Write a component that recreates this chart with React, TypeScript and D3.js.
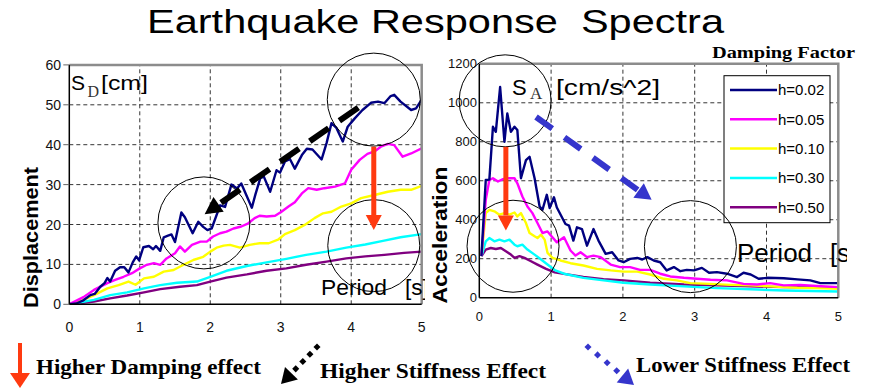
import * as d3 from 'd3';

// ---- data ----
const periodTicks = [0, 1, 2, 3, 4, 5];
const sdTicks = [0, 10, 20, 30, 40, 50, 60];
const saTicks = [0, 200, 400, 600, 800, 1000, 1200];
const dampingLabels = ['h=0.02', 'h=0.05', 'h=0.10', 'h=0.30', 'h=0.50'];
const dampingColors = ['#000080', '#ff00ff', '#ffff00', '#00ffff', '#800080'];

type Pt = [number, number];

// displacement spectra [period s, SD cm]
const sdH002: Pt[] = [
  [0, 0], [0.1, 0.2], [0.2, 1.0], [0.3, 2.3], [0.36, 2.6], [0.44, 4.4], [0.5, 5.3], [0.54, 6.6],
  [0.58, 5.7], [0.65, 8.4], [0.72, 9.3], [0.78, 9.3], [0.84, 8.0], [0.9, 10.5], [0.95, 12.0],
  [0.99, 11.0], [1.05, 14.3], [1.13, 14.6], [1.19, 13.8], [1.23, 14.6], [1.29, 13.4], [1.34, 16.8],
  [1.4, 17.2], [1.45, 17.5], [1.5, 15.6], [1.59, 23.0], [1.64, 21.8], [1.75, 17.8], [1.83, 20.7],
  [1.9, 19.4], [1.96, 18.6], [2.02, 19.0], [2.14, 24.8], [2.21, 24.4], [2.3, 30.0], [2.38, 29.0],
  [2.44, 30.3], [2.59, 24.2], [2.64, 27.5], [2.71, 31.6], [2.76, 32.0], [2.85, 28.2], [2.94, 33.6],
  [2.99, 33.0], [3.06, 35.8], [3.13, 36.4], [3.2, 34.0], [3.3, 37.4], [3.37, 39.0], [3.45, 38.8],
  [3.58, 36.3], [3.65, 40.4], [3.72, 45.4], [3.79, 44.2], [3.88, 40.8], [3.95, 44.5], [4.05, 46.6],
  [4.16, 48.7], [4.28, 50.5], [4.38, 50.8], [4.47, 50.4], [4.56, 52.2], [4.61, 52.5], [4.7, 50.8],
  [4.85, 48.7], [4.92, 49.1], [5.0, 51.3],
];
const sdH005: Pt[] = [
  [0, 0], [0.2, 1.8], [0.35, 3.6], [0.54, 5.3], [0.65, 6.1], [0.77, 6.9], [0.89, 7.8], [1.0, 9.0],
  [1.1, 9.9], [1.2, 10.3], [1.29, 9.9], [1.38, 11.5], [1.5, 12.8], [1.57, 14.5], [1.64, 13.2],
  [1.74, 14.9], [1.86, 15.7], [1.95, 15.7], [2.04, 17.0], [2.14, 17.8], [2.23, 18.2], [2.33, 19.0],
  [2.44, 19.5], [2.54, 20.3], [2.63, 21.6], [2.7, 22.2], [2.8, 22.0], [2.92, 22.2], [3.01, 23.2],
  [3.11, 24.5], [3.2, 25.6], [3.3, 27.8], [3.39, 29.1], [3.51, 28.7], [3.62, 29.1], [3.77, 29.5],
  [3.91, 30.3], [4.0, 33.7], [4.12, 36.2], [4.23, 37.7], [4.33, 38.3], [4.42, 39.5], [4.52, 40.2],
  [4.61, 39.9], [4.73, 37.0], [4.85, 37.8], [5.0, 39.1],
];
const sdH010: Pt[] = [
  [0, 0], [0.2, 1.1], [0.35, 2.3], [0.54, 4.0], [0.7, 4.8], [0.84, 5.7], [0.94, 4.9], [1.06, 6.5],
  [1.2, 6.9], [1.34, 8.2], [1.48, 8.6], [1.62, 9.9], [1.76, 11.1], [1.9, 11.9], [2.0, 13.2],
  [2.09, 14.2], [2.19, 14.7], [2.28, 14.9], [2.42, 14.2], [2.56, 14.9], [2.7, 15.3], [2.83, 15.3],
  [2.97, 16.3], [3.06, 17.6], [3.2, 18.6], [3.34, 19.9], [3.48, 21.6], [3.6, 22.8], [3.72, 23.2],
  [3.86, 24.5], [4.0, 25.3], [4.14, 26.6], [4.33, 27.4], [4.52, 28.2], [4.7, 28.7], [4.85, 28.7],
  [5.0, 29.7],
];
const sdH030: Pt[] = [
  [0, 0], [0.35, 1.1], [0.58, 2.3], [0.82, 3.0], [1.06, 4.0], [1.29, 4.8], [1.53, 5.4], [1.81, 5.7],
  [2.0, 6.9], [2.23, 8.4], [2.52, 9.6], [2.8, 10.5], [3.08, 11.4], [3.36, 12.4], [3.65, 13.2],
  [3.93, 14.2], [4.2, 15.0], [4.45, 15.9], [4.7, 16.8], [5.0, 17.6],
];
const sdH050: Pt[] = [
  [0, 0], [0.35, 0.7], [0.58, 1.5], [0.82, 2.2], [1.06, 3.0], [1.29, 3.8], [1.57, 4.4], [1.81, 4.8],
  [2.0, 5.7], [2.23, 6.7], [2.52, 7.5], [2.8, 8.4], [3.08, 9.0], [3.36, 9.9], [3.65, 10.7],
  [3.93, 11.5], [4.2, 12.0], [4.47, 12.4], [4.75, 12.9], [5.0, 13.2],
];

// acceleration spectra [period s, SA cm/s^2]
const saH002: Pt[] = [
  [0.03, 213], [0.09, 604], [0.14, 606], [0.19, 877], [0.23, 851], [0.29, 1081], [0.35, 800],
  [0.39, 945], [0.44, 851], [0.49, 877], [0.53, 860], [0.58, 613], [0.65, 706], [0.7, 723],
  [0.77, 613], [0.84, 468], [0.88, 451], [0.94, 528], [0.98, 460], [1.04, 515], [1.08, 463],
  [1.2, 378], [1.25, 370], [1.31, 293], [1.36, 361], [1.43, 352], [1.5, 267], [1.59, 352],
  [1.66, 293], [1.76, 225], [1.85, 233], [1.94, 191], [2.01, 182], [2.1, 199], [2.2, 204],
  [2.27, 196], [2.34, 208], [2.43, 191], [2.52, 182], [2.61, 140], [2.71, 157], [2.8, 136],
  [2.89, 143], [2.99, 140], [3.1, 153], [3.2, 128], [3.31, 131], [3.45, 123], [3.59, 106],
  [3.68, 128], [3.78, 119], [3.89, 97], [4.01, 102], [4.24, 100], [4.43, 94], [4.61, 89],
  [4.75, 75], [4.89, 75], [5.0, 75],
];
const saH005: Pt[] = [
  [0.03, 213], [0.09, 502], [0.14, 604], [0.19, 613], [0.26, 596], [0.33, 608], [0.39, 613],
  [0.49, 613], [0.53, 587], [0.6, 519], [0.67, 468], [0.74, 434], [0.81, 383], [0.88, 332],
  [0.95, 340], [1.0, 318], [1.08, 284], [1.18, 310], [1.27, 242], [1.34, 216], [1.41, 233],
  [1.5, 208], [1.59, 216], [1.69, 208], [1.83, 170], [1.96, 157], [2.1, 157], [2.24, 143],
  [2.38, 143], [2.52, 123], [2.66, 109], [2.85, 102], [3.03, 97], [3.22, 92], [3.45, 89],
  [3.68, 71], [3.87, 68], [4.05, 75], [4.24, 63], [4.47, 66], [4.7, 60], [5.0, 54],
];
const saH010: Pt[] = [
  [0.03, 213], [0.09, 434], [0.14, 451], [0.21, 443], [0.28, 426], [0.35, 434], [0.42, 426],
  [0.49, 437], [0.53, 417], [0.58, 434], [0.65, 383], [0.7, 332], [0.77, 315], [0.81, 306],
  [0.86, 323], [0.91, 298], [0.95, 230], [1.02, 204], [1.13, 191], [1.27, 177], [1.45, 165],
  [1.64, 148], [1.83, 140], [2.01, 134], [2.2, 134], [2.38, 119], [2.57, 97], [2.75, 89],
  [2.94, 75], [3.22, 71], [3.5, 66], [3.78, 63], [4.05, 58], [4.43, 51], [4.7, 49], [5.0, 46],
];
const saH030: Pt[] = [
  [0.03, 213], [0.09, 289], [0.14, 306], [0.21, 289], [0.28, 298], [0.35, 289], [0.42, 298],
  [0.49, 272], [0.53, 264], [0.6, 272], [0.67, 247], [0.77, 221], [0.86, 196], [0.95, 170],
  [1.05, 142], [1.18, 123], [1.45, 102], [1.73, 89], [2.01, 77], [2.38, 68], [2.85, 58],
  [3.31, 49], [3.78, 43], [4.24, 37], [5.0, 32],
];
const saH050: Pt[] = [
  [0.03, 213], [0.09, 247], [0.16, 255], [0.23, 250], [0.3, 255], [0.37, 238], [0.44, 221],
  [0.49, 204], [0.56, 213], [0.63, 204], [0.72, 187], [0.81, 170], [0.93, 148], [1.05, 130],
  [1.18, 122], [1.45, 106], [1.73, 95], [2.01, 89], [2.38, 77], [2.85, 68], [3.31, 63],
  [3.78, 58], [4.24, 54], [5.0, 51],
];

const sdSeries = [sdH002, sdH005, sdH010, sdH030, sdH050];
const saSeries = [saH002, saH005, saH010, saH030, saH050];

const SANS = 'Liberation Sans, Arial, sans-serif';
const SERIF = 'Liberation Serif, Times New Roman, serif';
const RED = '#ff3a10';
const BLUE = '#3535cc';

function arrowHead(x1: number, y1: number, x2: number, y2: number, len: number, half: number) {
  const a = Math.atan2(y2 - y1, x2 - x1);
  const bx = x2 - len * Math.cos(a);
  const by = y2 - len * Math.sin(a);
  const nx = -Math.sin(a) * half;
  const ny = Math.cos(a) * half;
  return { bx, by, pts: `${x2},${y2} ${bx + nx},${by + ny} ${bx - nx},${by - ny}` };
}

function Arrow({ x1, y1, x2, y2, color, width, len, half, dash }: {
  x1: number; y1: number; x2: number; y2: number; color: string; width: number; len: number; half: number; dash?: string;
}) {
  const h = arrowHead(x1, y1, x2, y2, len, half);
  return (
    <g>
      <line x1={x1} y1={y1} x2={h.bx} y2={h.by} stroke={color} strokeWidth={width} strokeDasharray={dash} />
      <polygon points={h.pts} fill={color} />
    </g>
  );
}

function DottedArrow({ x1, y1, x2, y2, color }: { x1: number; y1: number; x2: number; y2: number; color: string }) {
  const h = arrowHead(x1, y1, x2, y2, 15, 9);
  const dots = d3.range(4).map((i) => {
    const f = i / 3.6;
    return [x1 + (h.bx - x1) * f, y1 + (h.by - y1) * f];
  });
  return (
    <g>
      {dots.map(([x, y], i) => (
        <rect key={i} x={x - 2.5} y={y - 2.5} width={5} height={5} fill={color} transform={`rotate(45 ${x} ${y})`} />
      ))}
      <polygon points={h.pts} fill={color} />
    </g>
  );
}

interface PanelProps {
  id: string;
  series: Pt[][];
  yTicks: number[];
  x0: number; x1: number; y0: number; y1: number;
  yLabelX: number; xLabelY: number; tickFont: number; tickLen: number;
  children: (x: d3.ScaleLinear<number, number>, y: d3.ScaleLinear<number, number>) => any;
}

function Panel({ id, series, yTicks, x0, x1, y0, y1, yLabelX, xLabelY, tickFont, tickLen, children }: PanelProps) {
  const x = d3.scaleLinear().domain([0, 5]).range([x0, x1]);
  const y = d3.scaleLinear().domain([0, yTicks[yTicks.length - 1]]).range([y0, y1]);
  const line = d3.line<Pt>().x((d) => x(d[0])).y((d) => y(d[1]));
  return (
    <g>
      <defs>
        <clipPath id={`clip-${id}`}>
          <rect x={x0} y={y1} width={x1 - x0} height={y0 - y1} />
        </clipPath>
      </defs>
      <rect x={x0} y={y1} width={x1 - x0} height={y0 - y1} fill="#fff" />
      {yTicks.slice(1, -1).map((t) => (
        <line key={`gy${t}`} x1={x0} x2={x1} y1={y(t)} y2={y(t)} stroke="#000" strokeWidth={0.8} strokeDasharray="4 3" />
      ))}
      {periodTicks.slice(1, -1).map((t) => (
        <line key={`gx${t}`} x1={x(t)} x2={x(t)} y1={y0} y2={y1} stroke="#000" strokeWidth={0.8} strokeDasharray="4 3" />
      ))}
      <g clipPath={`url(#clip-${id})`}>
        {series.map((s, i) => (
          <path key={i} d={line(s) ?? ''} fill="none" stroke={dampingColors[i]} strokeWidth={2.4} strokeLinejoin="round" />
        )).reverse()}
      </g>
      {/* frame: gray top/right, black left/bottom */}
      <polyline points={`${x0},${y1} ${x1},${y1} ${x1},${y0}`} fill="none" stroke="#8c8c8c" strokeWidth={2.5} />
      <line x1={x0} x2={x1} y1={y0} y2={y0} stroke="#000" strokeWidth={1.5} />
      <line x1={x0} x2={x0} y1={y0} y2={y1} stroke="#000" strokeWidth={1.5} />
      {yTicks.map((t) => (
        <g key={`yt${t}`}>
          {tickLen > 0 && <line x1={x0 - tickLen} x2={x0} y1={y(t)} y2={y(t)} stroke="#666" strokeWidth={1} />}
          <text x={yLabelX} y={y(t)} dy="0.36em" textAnchor="end" fontFamily={SANS} fontSize={tickFont} fill="#111">
            {t}
          </text>
        </g>
      ))}
      {periodTicks.map((t) => (
        <text key={`xt${t}`} x={x(t)} y={xLabelY} textAnchor="middle" fontFamily={SANS} fontSize={tickFont} fill="#111">
          {t}
        </text>
      ))}
      {children(x, y)}
    </g>
  );
}

export default function App() {
  return (
    <svg width={877} height={389} style={{ position: 'absolute', left: 0, top: 0, background: '#fff' }}>
      <defs>
        <clipPath id="clip-period-sd"><rect x={300} y={260} width={125} height={44} /></clipPath>
        <clipPath id="clip-period-sa"><rect x={720} y={225} width={127} height={45} /></clipPath>
      </defs>
      <rect width={877} height={389} fill="#fff" />
      <text x={147} y={33} fontFamily={SANS} fontSize={33} textLength={577} lengthAdjust="spacingAndGlyphs" style={{ whiteSpace: 'pre' }}>
        Earthquake Response  Spectra
      </text>
      <text x={712} y={58} fontFamily={SERIF} fontWeight="bold" fontSize={16} textLength={143} lengthAdjust="spacingAndGlyphs">
        Damping Factor
      </text>

      {/* Displacement panel */}
      <Panel id="sd" series={sdSeries} yTicks={sdTicks} x0={69.3} x1={421.7} y0={304.3} y1={64.9}
        yLabelX={61} xLabelY={332} tickFont={14} tickLen={6}>
        {(x, y) => (
          <g>
            <g clipPath="url(#clip-period-sd)">
              <text x={321} y={295} fontFamily={SANS} fontSize={22.5} textLength={66} lengthAdjust="spacingAndGlyphs">Period</text>
              <text x={405} y={295} fontFamily={SANS} fontSize={22.5}>[s]</text>
            </g>
            <text x={71} y={90} fontFamily={SANS} fontSize={21}>S</text>
            <text x={87.5} y={97} fontFamily={SERIF} fontSize={16} fill="#333">D</text>
            <text x={101} y={90} fontFamily={SANS} fontSize={21} textLength={47} lengthAdjust="spacingAndGlyphs">[cm]</text>
            <circle cx={x(1.91)} cy={y(20.4)} r={46} fill="none" stroke="#000" strokeWidth={1} />
            <circle cx={x(4.32)} cy={y(51.3)} r={46.5} fill="none" stroke="#000" strokeWidth={1} />
            <circle cx={x(4.32)} cy={y(14.7)} r={46} fill="none" stroke="#000" strokeWidth={1} />
            <Arrow x1={x(4.1)} y1={y(49.3)} x2={x(1.92)} y2={y(22.6)} color="#000" width={6} len={17} half={9} dash="23 13" />
            <Arrow x1={x(4.32)} y1={y(39.5)} x2={x(4.32)} y2={y(18.6)} color={RED} width={5} len={15} half={8} />
          </g>
        )}
      </Panel>
      <text transform="translate(38,237.5) rotate(-90)" textAnchor="middle" fontFamily={SANS} fontWeight="bold" fontSize={20}
        textLength={141} lengthAdjust="spacingAndGlyphs">
        Displacement
      </text>

      {/* Acceleration panel */}
      <Panel id="sa" series={saSeries} yTicks={saTicks} x0={479.3} x1={838.3} y0={297.7} y1={63.8}
        yLabelX={477} xLabelY={321} tickFont={13} tickLen={0}>
        {(x, y) => (
          <g>
            <g clipPath="url(#clip-period-sa)">
              <text x={737} y={262} fontFamily={SANS} fontSize={25.5} textLength={75} lengthAdjust="spacingAndGlyphs">Period</text>
              <text x={830} y={262} fontFamily={SANS} fontSize={25.5}>[s]</text>
            </g>
            <text x={512} y={95} fontFamily={SANS} fontSize={22}>S</text>
            <text x={530} y={99} fontFamily={SERIF} fontSize={17} fill="#333">A</text>
            <text x={556} y={95} fontFamily={SANS} fontSize={22} textLength={104} lengthAdjust="spacingAndGlyphs">[cm/s^2]</text>
            <g>
              <rect x={724} y={75.7} width={106} height={147} fill="#fff" stroke="#000" strokeWidth={1} />
              {dampingLabels.map((lab, i) => {
                const ly = 90 + i * 29.3;
                return (
                  <g key={lab}>
                    <line x1={730} x2={777} y1={ly} y2={ly} stroke={dampingColors[i]} strokeWidth={2.5} />
                    <text x={778} y={ly} dy="0.36em" fontFamily={SANS} fontSize={15}>{lab}</text>
                  </g>
                );
              })}
            </g>
            <circle cx={x(0.36)} cy={y(1010)} r={46} fill="none" stroke="#000" strokeWidth={1} />
            <circle cx={x(0.47)} cy={y(264)} r={46} fill="none" stroke="#000" strokeWidth={1} />
            <circle cx={x(2.94)} cy={y(262)} r={46} fill="none" stroke="#000" strokeWidth={1} />
            <Arrow x1={x(0.79)} y1={y(927)} x2={x(2.4)} y2={y(502)} color={BLUE} width={6} len={16} half={9} dash="20 15" />
            <Arrow x1={x(0.37)} y1={y(774)} x2={x(0.37)} y2={y(345)} color={RED} width={5} len={15} half={8} />
          </g>
        )}
      </Panel>
      <text transform="translate(447,235) rotate(-90)" textAnchor="middle" fontFamily={SANS} fontWeight="bold" fontSize={20}
        textLength={137} lengthAdjust="spacingAndGlyphs">
        Acceleration
      </text>

      {/* bottom key */}
      <Arrow x1={20} y1={343} x2={20} y2={388} color={RED} width={4} len={15} half={10} />
      <text x={36} y={374} fontFamily={SERIF} fontWeight="bold" fontSize={21} textLength={225} lengthAdjust="spacingAndGlyphs">
        Higher Damping effect
      </text>
      <DottedArrow x1={317} y1={347} x2={281} y2={384} color="#000" />
      <text x={320} y={378} fontFamily={SERIF} fontWeight="bold" fontSize={21} textLength={226} lengthAdjust="spacingAndGlyphs">
        Higher Stiffness Effect
      </text>
      <DottedArrow x1={588} y1={347} x2={634} y2={385} color={BLUE} />
      <text x={636} y={372} fontFamily={SERIF} fontWeight="bold" fontSize={21} textLength={214} lengthAdjust="spacingAndGlyphs">
        Lower Stiffness Effect
      </text>
    </svg>
  );
}
